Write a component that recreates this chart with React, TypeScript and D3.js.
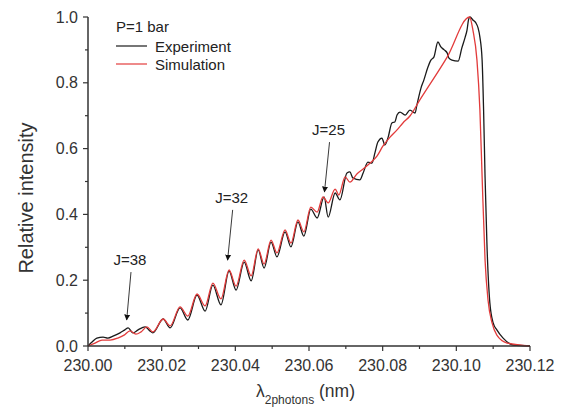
import React from "react";
import * as d3 from "d3";

const simLambda = [
  230.0000, 230.0019, 230.0038, 230.0060, 230.0081, 230.0098, 230.0114, 230.0130, 230.0144, 230.0160,
  230.0176, 230.0204, 230.0223, 230.0250, 230.0271, 230.0296, 230.0318, 230.0339, 230.0361, 230.0383,
  230.0402, 230.0424, 230.0443, 230.0462, 230.0478, 230.0497, 230.0513, 230.0535, 230.0551, 230.0570,
  230.0586, 230.0605, 230.0622, 230.0638, 230.0652, 230.0671, 230.0681, 230.0698, 230.0711, 230.0730,
  230.0747, 230.0766, 230.0785, 230.0801, 230.0820, 230.0839, 230.0855, 230.0874, 230.0901, 230.0975,
  230.1036, 230.1045, 230.1056, 230.1064, 230.1070, 230.1078, 230.1086, 230.1097, 230.1110, 230.1138,
  230.1200,
];
const simIntensity = [
  0.000, 0.009, 0.018, 0.018, 0.024, 0.033, 0.046, 0.036, 0.043, 0.058,
  0.043, 0.082, 0.061, 0.119, 0.091, 0.158, 0.122, 0.191, 0.143, 0.231,
  0.182, 0.261, 0.213, 0.295, 0.249, 0.322, 0.283, 0.353, 0.313, 0.383,
  0.347, 0.422, 0.407, 0.453, 0.435, 0.477, 0.459, 0.514, 0.498, 0.523,
  0.538, 0.556, 0.578, 0.608, 0.635, 0.657, 0.678, 0.699, 0.748, 0.878,
  1.000, 0.960, 0.869, 0.717, 0.514, 0.261, 0.140, 0.070, 0.033, 0.009,
  0.000,
];

const expLambda = [
  230.0000, 230.0011, 230.0024, 230.0041, 230.0054, 230.0068, 230.0087, 230.0100, 230.0109, 230.0122,
  230.0136, 230.0155, 230.0168, 230.0176, 230.0204, 230.0223, 230.0250, 230.0271, 230.0296, 230.0318,
  230.0339, 230.0361, 230.0383, 230.0402, 230.0424, 230.0443, 230.0462, 230.0478, 230.0497, 230.0513,
  230.0535, 230.0551, 230.0570, 230.0586, 230.0605, 230.0622, 230.0641, 230.0652, 230.0671, 230.0684,
  230.0703, 230.0711, 230.0719, 230.0738, 230.0747, 230.0760, 230.0771, 230.0779, 230.0787, 230.0798,
  230.0806, 230.0815, 230.0825, 230.0833, 230.0839, 230.0847, 230.0861, 230.0874, 230.0888, 230.0893,
  230.0904, 230.0912, 230.0923, 230.0931, 230.0939, 230.0950, 230.0958, 230.0967, 230.0975, 230.0980,
  230.0988, 230.1005, 230.1015, 230.1024, 230.1029, 230.1033, 230.1037, 230.1045, 230.1053, 230.1059,
  230.1064, 230.1070, 230.1074, 230.1078, 230.1083, 230.1091, 230.1100, 230.1110, 230.1127, 230.1154,
  230.1200,
];
const expIntensity = [
  0.000, 0.012, 0.024, 0.027, 0.024, 0.030, 0.040, 0.049, 0.055, 0.040,
  0.049, 0.058, 0.046, 0.040, 0.082, 0.055, 0.116, 0.079, 0.155, 0.106,
  0.185, 0.125, 0.228, 0.170, 0.255, 0.198, 0.292, 0.237, 0.316, 0.271,
  0.347, 0.301, 0.377, 0.334, 0.416, 0.389, 0.453, 0.392, 0.465, 0.444,
  0.526, 0.529, 0.511, 0.505, 0.526, 0.559, 0.556, 0.587, 0.620, 0.632,
  0.611, 0.635, 0.678, 0.681, 0.702, 0.711, 0.702, 0.717, 0.708, 0.733,
  0.784, 0.809, 0.848, 0.869, 0.878, 0.924, 0.909, 0.900, 0.891, 0.875,
  0.869, 0.866, 0.906, 0.939, 0.960, 0.991, 1.000, 0.991, 0.982, 0.967,
  0.939, 0.869, 0.717, 0.514, 0.313, 0.131, 0.070, 0.049, 0.024, 0.003,
  0.000,
];

const xMajorTicks = [230.0, 230.02, 230.04, 230.06, 230.08, 230.1, 230.12];
const xTickLabels = ["230.00", "230.02", "230.04", "230.06", "230.08", "230.10", "230.12"];
const xMinorTicks = [230.01, 230.03, 230.05, 230.07, 230.09, 230.11];
const yMajorTicks = [0, 0.2, 0.4, 0.6, 0.8, 1.0];
const yTickLabels = ["0.0", "0.2", "0.4", "0.6", "0.8", "1.0"];
const yMinorTicks = [0.1, 0.3, 0.5, 0.7, 0.9];

const annotations = [
  { label: "J=38", tx: 230.0114, tv: 0.246, hx: 230.0105, hv: 0.076 },
  { label: "J=32", tx: 230.0390, tv: 0.435, hx: 230.0379, hv: 0.258 },
  { label: "J=25", tx: 230.0653, tv: 0.641, hx: 230.0642, hv: 0.465 },
];

const FONT = "'Liberation Sans', Arial, Helvetica, sans-serif";

export default function App() {
  const x = d3.scaleLinear().domain([230.0, 230.12]).range([88, 530]);
  const y = d3.scaleLinear().domain([0, 1]).range([346, 17]);

  const line = d3
    .line<[number, number]>()
    .x((d) => x(d[0]))
    .y((d) => y(d[1]))
    .curve(d3.curveMonotoneX);

  const simPts = simLambda.map((l, i) => [l, simIntensity[i]] as [number, number]);
  const expPts = expLambda.map((l, i) => [l, expIntensity[i]] as [number, number]);

  const axisColor = "#333";

  return (
    <svg
      width={563}
      height={407}
      style={{ position: "absolute", left: 0, top: 0, background: "#fff" }}
      fontFamily={FONT}
    >
      <defs>
        <marker id="ah" viewBox="0 0 10 10" refX="9" refY="5" markerWidth="6" markerHeight="8" orient="auto" markerUnits="userSpaceOnUse">
          <path d="M0,0 L10,5 L0,10 z" fill="#111" />
        </marker>
      </defs>

      {/* curves */}
      <path d={line(expPts) || ""} fill="none" stroke="#1a1a1a" strokeWidth={1.3} strokeLinejoin="round" />
      <path d={line(simPts) || ""} fill="none" stroke="#e23b3b" strokeWidth={1.3} strokeLinejoin="round" />

      {/* axes */}
      <line x1={x(230)} x2={x(230.12)} y1={y(0)} y2={y(0)} stroke={axisColor} strokeWidth={1.5} />
      <line x1={x(230)} x2={x(230)} y1={y(0)} y2={y(1)} stroke={axisColor} strokeWidth={1.5} />

      {xMajorTicks.map((t, i) => (
        <g key={"xm" + i}>
          <line x1={x(t)} x2={x(t)} y1={y(0)} y2={y(0) + 5} stroke={axisColor} strokeWidth={1.2} />
          <text x={x(t)} y={371} fontSize={16} textAnchor="middle" fill="#333">
            {xTickLabels[i]}
          </text>
        </g>
      ))}
      {xMinorTicks.map((t, i) => (
        <line key={"xn" + i} x1={x(t)} x2={x(t)} y1={y(0)} y2={y(0) + 3} stroke={axisColor} strokeWidth={1.2} />
      ))}
      {yMajorTicks.map((t, i) => (
        <g key={"ym" + i}>
          <line x1={x(230) - 5} x2={x(230)} y1={y(t)} y2={y(t)} stroke={axisColor} strokeWidth={1.2} />
          <text x={78} y={y(t) + 5.5} fontSize={16} textAnchor="end" fill="#333">
            {yTickLabels[i]}
          </text>
        </g>
      ))}
      {yMinorTicks.map((t, i) => (
        <line key={"yn" + i} x1={x(230) - 3} x2={x(230)} y1={y(t)} y2={y(t)} stroke={axisColor} strokeWidth={1.2} />
      ))}

      {/* axis titles */}
      <text transform="translate(33,198) rotate(-90)" fontSize={20} textAnchor="middle" fill="#333">
        Relative intensity
      </text>
      <text x={256} y={397} fontSize={17.5} fill="#333">
        λ
        <tspan fontSize={12} dy={7}>2photons</tspan>
        <tspan fontSize={17.5} dy={-7}> (nm)</tspan>
      </text>

      {/* legend */}
      <text x={116} y={32} fontSize={15} fill="#222">P=1 bar</text>
      <line x1={116} x2={147} y1={46} y2={46} stroke="#1a1a1a" strokeWidth={1.2} />
      <text x={155} y={51.5} fontSize={15} fill="#222">Experiment</text>
      <line x1={116} x2={147} y1={64} y2={64} stroke="#e23b3b" strokeWidth={1.2} />
      <text x={155} y={69.5} fontSize={15} fill="#222">Simulation</text>

      {/* annotations */}
      {annotations.map((a, i) => (
        <g key={"an" + i}>
          <text x={x(a.tx)} y={y(a.tv)} fontSize={15} textAnchor="middle" fill="#222">
            {a.label}
          </text>
          <line
            x1={x(a.tx) + 1}
            y1={y(a.tv) + 7}
            x2={x(a.hx)}
            y2={y(a.hv) - 1}
            stroke="#222"
            strokeWidth={0.9}
            markerEnd="url(#ah)"
          />
        </g>
      ))}
    </svg>
  );
}
